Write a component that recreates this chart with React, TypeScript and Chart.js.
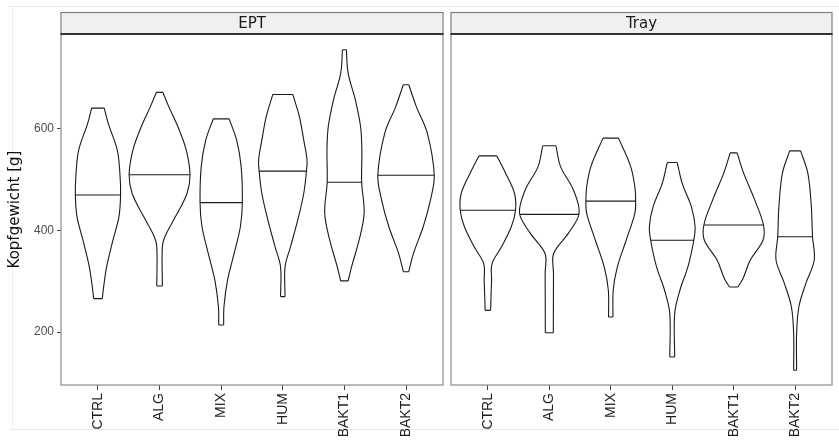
import React, { useEffect, useRef } from "react";
import { Chart, registerables } from "chart.js";
Chart.register(...registerables);

const categories = ["CTRL", "ALG", "MIX", "HUM", "BAKT1", "BAKT2"];
const panelTitles = ["EPT", "Tray"];
const yTitle = "Kopfgewicht [g]";
const yTicks = [200, 400, 600];
const yMin = 96;
const yMax = 787;

// violin outlines: [Kopfgewicht, half-width in category units], bottom -> top
const eptCTRL = [[266, 0.07], [289, 0.092], [329, 0.141], [381, 0.243], [427, 0.34], [470, 0.367], [513, 0.356], [559, 0.312], [611, 0.167], [641, 0.102]];
const eptALG = [[291, 0.045], [368, 0.045], [388, 0.086], [427, 0.256], [473, 0.445], [510, 0.494], [559, 0.432], [605, 0.296], [644, 0.149], [672, 0.053]];
const eptMIX = [[214, 0.04], [250, 0.045], [302, 0.102], [355, 0.21], [408, 0.312], [455, 0.343], [526, 0.324], [578, 0.251], [620, 0.129]];
const eptHUM = [[270, 0.036], [329, 0.037], [368, 0.125], [421, 0.243], [473, 0.34], [517, 0.384], [539, 0.393], [578, 0.34], [624, 0.27], [668, 0.162]];
const eptBAKT1 = [[301, 0.061], [329, 0.117], [381, 0.238], [434, 0.32], [495, 0.28], [559, 0.283], [605, 0.262], [657, 0.178], [710, 0.06], [756, 0.032]];
const eptBAKT2 = [[319, 0.044], [355, 0.121], [408, 0.28], [460, 0.396], [509, 0.458], [592, 0.345], [644, 0.167], [687, 0.045]];
const eptMedians = [470, 510, 455, 517, 495, 509];

const trayCTRL = [[243, 0.044], [302, 0.06], [335, 0.068], [368, 0.222], [408, 0.383], [440, 0.45], [473, 0.434], [513, 0.288], [547, 0.146]];
const trayALG = [[199, 0.065], [316, 0.068], [355, 0.07], [395, 0.311], [434, 0.485], [480, 0.392], [526, 0.183], [567, 0.108]];
const trayMIX = [[230, 0.036], [283, 0.04], [329, 0.108], [381, 0.251], [434, 0.392], [458, 0.405], [486, 0.392], [526, 0.324], [582, 0.126]];
const trayHUM = [[151, 0.04], [237, 0.04], [283, 0.126], [329, 0.256], [381, 0.351], [408, 0.372], [447, 0.311], [493, 0.162], [534, 0.081]];
const trayBAKT1 = [[289, 0.068], [305, 0.15], [342, 0.27], [381, 0.477], [411, 0.485], [460, 0.343], [513, 0.162], [553, 0.057]];
const trayBAKT2 = [[125, 0.024], [197, 0.024], [250, 0.061], [296, 0.175], [342, 0.311], [388, 0.283], [447, 0.264], [513, 0.207], [557, 0.089]];
const trayMedians = [440, 432, 458, 381, 411, 388];

const eptProfiles = [eptCTRL, eptALG, eptMIX, eptHUM, eptBAKT1, eptBAKT2];
const trayProfiles = [trayCTRL, trayALG, trayMIX, trayHUM, trayBAKT1, trayBAKT2];

function widthAt(profile: number[][], v: number) {
  for (let i = 0; i < profile.length - 1; i++) {
    const [v0, w0] = profile[i];
    const [v1, w1] = profile[i + 1];
    if (v >= v0 && v <= v1) return w0 + ((w1 - w0) * (v - v0)) / (v1 - v0);
  }
  return profile[0][1];
}

function violinDataset(profile: number[][], median: number, idx: number) {
  const c = idx + 1;
  const gap = { x: c, y: null as any };
  const pts: any[] = [];
  profile.forEach(([v, w]) => pts.push({ x: c + w, y: v }));
  pts.push(gap);
  const [vt, wt] = profile[profile.length - 1];
  pts.push({ x: c + wt, y: vt }, { x: c - wt, y: vt });
  pts.push(gap);
  [...profile].reverse().forEach(([v, w]) => pts.push({ x: c - w, y: v }));
  pts.push(gap);
  const [vb, wb] = profile[0];
  pts.push({ x: c - wb, y: vb }, { x: c + wb, y: vb });
  pts.push(gap);
  const wm = widthAt(profile, median);
  pts.push({ x: c - wm, y: median }, { x: c + wm, y: median });
  return {
    type: "line" as const,
    data: pts,
    borderColor: "#1a1a1a",
    borderWidth: 1.1,
    pointRadius: 0,
    fill: false,
    tension: 0.35,
    spanGaps: false,
  };
}

const panelPlugin = {
  id: "panelStrip",
  afterDraw(chart: any, _args: any, opts: any) {
    const { ctx, chartArea: a } = chart;
    const w = a.right - a.left;
    ctx.save();
    ctx.strokeStyle = "#8c8c8c";
    ctx.lineWidth = 1.2;
    ctx.strokeRect(a.left, a.top, w, a.bottom - a.top);
    const sTop = 12.5;
    ctx.fillStyle = "#f0f0f0";
    ctx.fillRect(a.left, sTop, w, a.top - sTop);
    ctx.strokeStyle = "#808080";
    ctx.lineWidth = 1.2;
    ctx.strokeRect(a.left, sTop, w, a.top - sTop);
    ctx.strokeStyle = "#333";
    ctx.lineWidth = 2;
    ctx.beginPath();
    ctx.moveTo(a.left - 0.5, a.top);
    ctx.lineTo(a.right + 0.5, a.top);
    ctx.stroke();
    ctx.fillStyle = "#1a1a1a";
    ctx.font = '15px "DejaVu Sans"';
    ctx.textAlign = "center";
    ctx.textBaseline = "middle";
    ctx.fillText(opts.title, a.left + w / 2, (sTop + a.top) / 2 + 0.5);
    ctx.restore();
  },
};

function makeConfig(panel: number) {
  const profiles = panel === 0 ? eptProfiles : trayProfiles;
  const medians = panel === 0 ? eptMedians : trayMedians;
  const first = panel === 0;
  return {
    type: "line" as const,
    data: { datasets: profiles.map((p, i) => violinDataset(p, medians[i], i)) },
    plugins: [panelPlugin],
    options: {
      animation: false as const,
      responsive: false,
      devicePixelRatio: 1,
      layout: { padding: first ? { top: 34, right: 4, bottom: 0, left: 0 } : { top: 34, right: 7, bottom: 0, left: 4 } },
      plugins: {
        legend: { display: false },
        tooltip: { enabled: false },
        panelStrip: { title: panelTitles[panel] },
      },
      scales: {
        x: {
          type: "linear" as const,
          min: 0.4,
          max: 6.6,
          afterBuildTicks: (s: any) => {
            s.ticks = categories.map((_, i) => ({ value: i + 1 }));
          },
          afterFit: (s: any) => {
            s.height = 58;
          },
          ticks: {
            autoSkip: false,
            minRotation: 90,
            maxRotation: 90,
            padding: 3,
            color: "#1f1f1f",
            font: { family: '"Liberation Sans", Arial', size: 14 },
            callback: (_v: any, i: number) => categories[i],
          },
          grid: { drawOnChartArea: false, drawTicks: true, tickLength: 5, color: "#444", lineWidth: 1 },
          border: { display: false },
        },
        y: {
          type: "linear" as const,
          display: first,
          min: yMin,
          max: yMax,
          afterBuildTicks: (s: any) => {
            s.ticks = yTicks.map((v) => ({ value: v }));
          },
          afterFit: (s: any) => {
            s.width = first ? 61 : 0;
          },
          ticks: {
            padding: 3,
            color: "#4d4d4d",
            font: { family: '"Liberation Sans", Arial', size: 12 },
          },
          grid: { drawOnChartArea: false, drawTicks: true, tickLength: 4, color: "#444", lineWidth: 1 },
          border: { display: false },
          title: {
            display: first,
            text: yTitle,
            color: "#111",
            font: { family: '"DejaVu Sans"', size: 15 },
            padding: { top: 6, bottom: 0 },
          },
        },
      },
    },
  };
}

function Panel({ index, left, width }: { index: number; left: number; width: number }) {
  const ref = useRef<HTMLCanvasElement | null>(null);
  useEffect(() => {
    if (!ref.current) return;
    const chart = new Chart(ref.current, makeConfig(index) as any);
    return () => chart.destroy();
  }, [index]);
  return (
    <canvas
      ref={ref}
      width={width}
      height={443}
      style={{ position: "absolute", left, top: 0, width, height: 443 }}
    />
  );
}

export default function App() {
  return (
    <div style={{ position: "absolute", left: 0, top: 0, width: 839, height: 443, background: "#fff", overflow: "hidden" }}>
      <div style={{ position: "absolute", left: 8, top: 6, width: 831, height: 1, background: "#e8e8e8" }} />
      <div style={{ position: "absolute", left: 12, top: 6, width: 1, height: 423, background: "#ececec" }} />
      <div style={{ position: "absolute", left: 10, top: 429, width: 829, height: 1, background: "#e8e8e8" }} />
      <Panel index={0} left={0} width={447} />
      <Panel index={1} left={447} width={392} />
    </div>
  );
}
